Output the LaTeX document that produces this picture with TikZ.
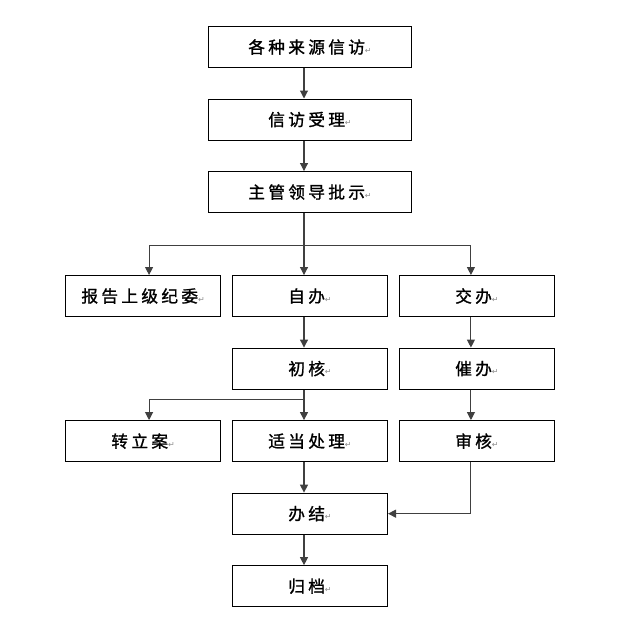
\documentclass[tikz,border=0pt]{standalone}
\usepackage{fontspec}
\usepackage{xcolor}
\usepackage{tikz}
\usetikzlibrary{positioning,arrows.meta}
\newfontfamily\cjk[LetterSpace=20,FakeBold=1.2]{Noto Sans CJK SC}
\newfontfamily\markfont{DejaVu Sans}
\newcommand\pmark{{\markfont\fontsize{6pt}{6pt}\selectfont\color{black!45}↵}}

\begin{document}
\begin{tikzpicture}[
      x=0.75pt, y=-0.75pt,
      node distance = 22.85pt and 8.2pt,
      box/.style     = {rectangle, draw, line width=0.8pt,
                        minimum width=116.2pt, minimum height=30.75pt,
                        inner sep=0pt, font=\cjk\fontsize{12.5pt}{13pt}\selectfont},
      widebox/.style = {box, minimum width=152.2pt},
      arrow/.style   = {-{Triangle[length=6pt,width=6pt]}, line width=0.8pt,
                        draw=black!75},
      link/.style    = {line width=0.8pt, draw=black!75}
    ]
    \useasboundingbox (0,0) rectangle (624,628);

    \node[widebox] (source) at (310,47) {各种来源信访\pmark};
    \node[widebox, below=of source]        (accept) {信访受理\pmark};
    \node[widebox, below=of accept]        (lead)   {主管领导批示\pmark};
    \node[box, below=46.45pt of lead]      (self)   {自办\pmark};
    \node[box, left=of self]               (report) {报告上级纪委\pmark};
    \node[box, right=of self]              (assign) {交办\pmark};
    \node[box, below=of self]              (check)  {初核\pmark};
    \node[box, below=of assign]            (urge)   {催办\pmark};
    \node[box, below=of check]             (handle) {适当处理\pmark};
    \node[box, left=of handle]             (case)   {转立案\pmark};
    \node[box, below=of urge]              (review) {审核\pmark};
    \node[box, below=of handle]            (close)  {办结\pmark};
    \node[box, below=of close]             (file)   {归档\pmark};

    \coordinate (fork)  at ([xshift=-4.5pt, yshift=-24pt]lead.south);
    \coordinate (split) at ([xshift=-4.5pt, yshift=-7.5pt]check.south);

    \draw[arrow] ([xshift=-4.5pt]source.south) -- ([xshift=-4.5pt]accept.north);
    \draw[arrow] ([xshift=-4.5pt]accept.south) -- ([xshift=-4.5pt]lead.north);
    \draw[arrow] ([xshift=-4.5pt]lead.south)   -- ([xshift=-4.5pt]self.north);
    \draw[arrow] (fork) -| ([xshift=4.5pt]report.north);
    \draw[arrow] (fork) -| ([xshift=-4.5pt]assign.north);
    \draw[arrow] ([xshift=-4.5pt]self.south)   -- ([xshift=-4.5pt]check.north);
    \draw[arrow] ([xshift=-4.5pt]assign.south) -- ([xshift=-4.5pt]urge.north);
    \draw[arrow] ([xshift=-4.5pt]check.south)  -- ([xshift=-4.5pt]handle.north);
    \draw[arrow] (split) -| ([xshift=4.5pt]case.north);
    \draw[arrow] ([xshift=-4.5pt]urge.south)   -- ([xshift=-4.5pt]review.north);
    \draw[arrow] ([xshift=-4.5pt]handle.south) -- ([xshift=-4.5pt]close.north);
    \draw[arrow] ([xshift=-4.5pt]review.south) |- (close.east);
    \draw[arrow] ([xshift=-4.5pt]close.south)  -- ([xshift=-4.5pt]file.north);
  \end{tikzpicture}
\end{document}
